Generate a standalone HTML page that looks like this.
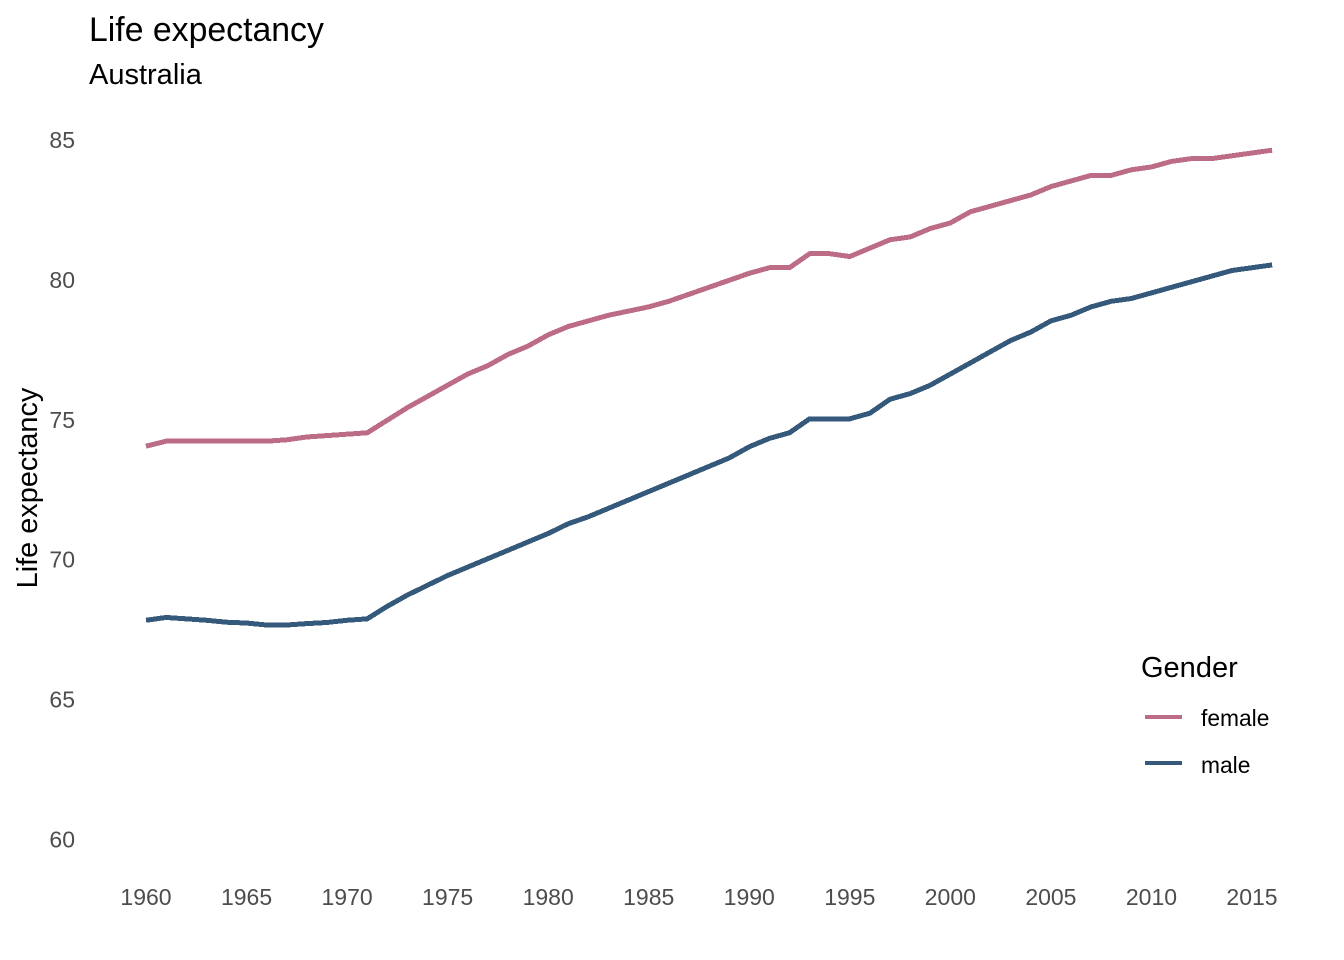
<!DOCTYPE html>
<html lang="en">
<head>
<meta charset="utf-8">
<title>Life expectancy - Australia</title>
<style>
html,body{margin:0;padding:0;background:#fff;}
svg{display:block;}
text{font-family:"Liberation Sans",Arial,sans-serif;}
.tick{font-size:23px;fill:#4d4d4d;}
</style>
</head>
<body>
<svg id="chart" width="1344" height="960" viewBox="0 0 1344 960" xmlns="http://www.w3.org/2000/svg">
  <rect width="1344" height="960" fill="#ffffff"/>
  <text x="89" y="41" font-size="33.8" fill="#000">Life expectancy</text>
  <text x="89" y="84" font-size="29" fill="#000">Australia</text>
  <text transform="translate(37,488) rotate(-90)" text-anchor="middle" font-size="28.9" fill="#000">Life expectancy</text>
  <g id="y-axis"></g>
  <g id="x-axis"></g>
  <g id="series"></g>
  <g>
    <text x="1141" y="677" font-size="29" fill="#000">Gender</text>
    <rect x="1145" y="715" width="37" height="4" fill="#bc6c84"/>
    <text x="1201" y="726" font-size="22.8" fill="#000">female</text>
    <rect x="1145" y="761" width="37" height="4" fill="#35597b"/>
    <text x="1201" y="773" font-size="22.8" fill="#000">male</text>
  </g>
</svg>
<script>
const firstYear = 1960;
const femaleValues = [74.02,74.2,74.2,74.2,74.2,74.2,74.2,74.25,74.35,74.4,74.45,74.5,74.95,75.4,75.8,76.2,76.6,76.9,77.3,77.6,78.0,78.3,78.5,78.7,78.85,79.0,79.2,79.45,79.7,79.95,80.2,80.4,80.4,80.9,80.9,80.8,81.1,81.4,81.5,81.8,82.0,82.4,82.6,82.8,83.0,83.3,83.5,83.7,83.7,83.9,84.0,84.2,84.3,84.3,84.4,84.5,84.6];
const maleValues = [67.8,67.9,67.85,67.8,67.73,67.7,67.63,67.63,67.68,67.72,67.8,67.85,68.3,68.7,69.05,69.4,69.7,70.0,70.3,70.6,70.9,71.25,71.5,71.8,72.1,72.4,72.7,73.0,73.3,73.6,74.0,74.3,74.5,75.0,75.0,75.0,75.2,75.7,75.9,76.2,76.6,77.0,77.4,77.8,78.1,78.5,78.7,79.0,79.2,79.3,79.5,79.7,79.9,80.1,80.3,80.4,80.5];
const xTickLabels = [1960,1965,1970,1975,1980,1985,1990,1995,2000,2005,2010,2015];
const yTickLabels = [60,65,70,75,80,85];

const NS = 'http://www.w3.org/2000/svg';
function xScale(year){ return 146 + (year - 1960) * (1252 - 146) / 55; }
function yScale(value){ return 838.5 - (value - 60) * (838.5 - 139) / 25; }

const yAxis = document.getElementById('y-axis');
yTickLabels.forEach(function(v){
  const t = document.createElementNS(NS,'text');
  t.setAttribute('class','tick');
  t.setAttribute('x',75);
  t.setAttribute('y',yScale(v)+9);
  t.setAttribute('text-anchor','end');
  
  
  t.textContent = v;
  yAxis.appendChild(t);
});

const xAxis = document.getElementById('x-axis');
xTickLabels.forEach(function(v){
  const t = document.createElementNS(NS,'text');
  t.setAttribute('class','tick');
  t.setAttribute('x',xScale(v));
  t.setAttribute('y',905);
  t.setAttribute('text-anchor','middle');
  
  
  t.textContent = v;
  xAxis.appendChild(t);
});

function pointsFor(values){
  return values.map(function(v,i){
    return xScale(firstYear+i).toFixed(2)+','+yScale(v).toFixed(2);
  }).join(' ');
}
const seriesGroup = document.getElementById('series');

const femaleLine = document.createElementNS(NS,'polyline');
femaleLine.setAttribute('points',pointsFor(femaleValues));
femaleLine.setAttribute('fill','none');
femaleLine.setAttribute('stroke','#bc6c84');
femaleLine.setAttribute('stroke-width','5');
femaleLine.setAttribute('stroke-linejoin','round');
femaleLine.setAttribute('shape-rendering','crispEdges');


seriesGroup.appendChild(femaleLine);

const maleLine = document.createElementNS(NS,'polyline');
maleLine.setAttribute('points',pointsFor(maleValues));
maleLine.setAttribute('fill','none');
maleLine.setAttribute('stroke','#35597b');
maleLine.setAttribute('stroke-width','5');
maleLine.setAttribute('stroke-linejoin','round');
maleLine.setAttribute('shape-rendering','crispEdges');


seriesGroup.appendChild(maleLine);
</script>
</body>
</html>
